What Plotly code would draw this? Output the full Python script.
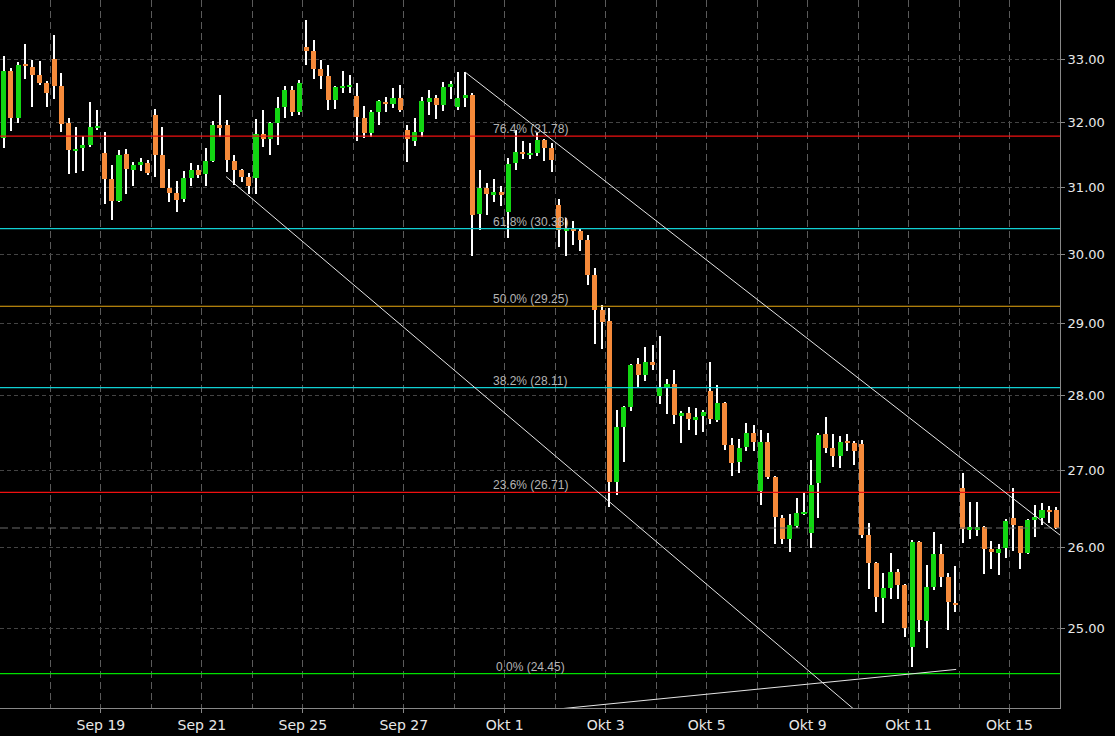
import math
import plotly.graph_objects as go

# Hourly bars, 7 per trading day (Sep 17 - Okt 15)
bars_per_day = 7
n_days = 21
day_labels = ["Sep 19", "Sep 21", "Sep 25", "Sep 27", "Okt 1", "Okt 3",
              "Okt 5", "Okt 9", "Okt 11", "Okt 15"]
label_days = [2, 4, 6, 8, 10, 12, 14, 16, 18, 20]

open_ = [
    31.76, 32.81, 32.07, 32.92, 32.87, 32.74, 32.62,
    33.00, 32.57, 31.98, 31.56, 31.60, 31.64, 31.91,
    31.52, 31.13, 30.79, 31.51, 31.26, 31.34, 31.37,
    32.11, 31.49, 30.99, 30.91, 30.82, 31.14, 31.26,
    31.20, 31.40, 31.95, 31.95, 31.40, 31.26, 31.15,
    31.14, 31.82, 31.74, 31.99, 32.24, 32.50, 32.16,
    33.20, 33.13, 32.84, 32.72, 32.35, 32.54, 32.56,
    32.41, 32.06, 31.83, 32.16, 32.32, 32.28, 32.38,
    31.88, 31.71, 31.85, 32.32, 32.38, 32.27, 32.56,
    32.24, 32.38, 32.43, 30.60, 30.99, 30.89, 30.92,
    30.62, 31.37, 31.54, 31.49, 31.52, 31.72, 31.60,
    30.73, 30.35, 30.38, 30.35, 30.21, 29.70, 29.20,
    29.04, 26.84, 27.58, 27.85, 28.44, 28.29, 28.46,
    28.00, 28.12, 28.16, 27.73, 27.77, 27.67, 27.73,
    28.06, 27.67, 27.90, 27.33, 27.11, 27.31, 27.50,
    26.73, 27.37, 26.91, 26.38, 26.11, 26.28, 26.43,
    26.19, 26.83, 27.48, 27.29, 27.19, 27.39, 27.36,
    27.35, 26.16, 25.80, 25.37, 25.49, 25.69, 25.53,
    24.77, 26.07, 25.09, 25.51, 25.92, 25.63, 25.31,
    26.77, 26.23, 26.23, 26.26, 25.98, 25.93, 25.99,
    26.38, 26.27, 25.93, 26.35, 26.38, 26.48, 26.48,
]
high = [
    33.05, 32.85, 32.95, 33.24, 32.98, 32.97, 32.65,
    33.39, 32.78, 32.06, 31.92, 31.79, 32.32, 32.19,
    31.85, 31.33, 31.56, 31.59, 31.39, 31.45, 31.41,
    32.20, 31.93, 31.28, 31.09, 31.25, 31.37, 31.34,
    31.60, 32.02, 32.43, 32.03, 31.49, 31.27, 31.21,
    32.05, 32.19, 32.00, 32.39, 32.57, 32.57, 32.66,
    33.63, 33.31, 32.98, 32.90, 32.57, 32.81, 32.74,
    32.62, 32.25, 32.19, 32.35, 32.39, 32.54, 32.58,
    31.95, 32.07, 32.40, 32.50, 32.43, 32.63, 32.64,
    32.79, 32.79, 32.45, 31.26, 31.07, 31.13, 31.01,
    31.44, 31.88, 31.71, 31.68, 31.83, 31.74, 31.68,
    30.82, 30.54, 30.49, 30.38, 30.29, 29.80, 29.27,
    29.22, 27.81, 27.86, 28.44, 28.52, 28.68, 28.70,
    28.83, 28.23, 28.36, 27.79, 27.85, 27.83, 27.81,
    28.47, 28.15, 27.91, 27.43, 27.41, 27.63, 27.60,
    27.54, 27.49, 26.92, 26.42, 26.43, 26.64, 26.70,
    27.14, 27.50, 27.71, 27.48, 27.45, 27.48, 27.39,
    27.40, 26.31, 25.82, 25.68, 25.93, 25.73, 25.54,
    26.10, 26.09, 25.78, 26.20, 26.05, 25.68, 25.77,
    26.96, 26.58, 26.59, 26.27, 26.09, 26.04, 26.37,
    26.77, 26.28, 26.36, 26.55, 26.57, 26.53, 26.52,
]
low = [
    31.60, 31.86, 31.99, 32.68, 32.24, 32.58, 32.23,
    32.36, 31.85, 31.20, 31.22, 31.25, 31.62, 31.88,
    30.75, 30.51, 30.78, 30.90, 31.02, 31.24, 31.18,
    31.16, 30.98, 30.77, 30.63, 30.78, 31.02, 31.14,
    31.02, 31.38, 31.77, 31.23, 31.03, 31.08, 30.90,
    30.90, 31.62, 31.49, 31.65, 32.07, 32.10, 32.11,
    32.91, 32.68, 32.52, 32.19, 32.21, 32.45, 32.46,
    31.71, 31.76, 31.77, 31.96, 32.16, 32.22, 32.15,
    31.39, 31.63, 31.77, 32.11, 32.05, 32.18, 32.37,
    32.19, 32.23, 29.98, 30.36, 30.58, 30.77, 30.72,
    30.24, 31.26, 31.43, 31.43, 31.47, 31.40, 31.23,
    30.11, 29.98, 30.13, 30.05, 29.55, 28.71, 28.64,
    26.52, 26.67, 27.11, 27.79, 28.10, 28.20, 28.36,
    27.89, 27.75, 27.61, 27.36, 27.54, 27.47, 27.51,
    27.62, 27.64, 27.27, 26.92, 26.97, 27.25, 27.25,
    26.54, 26.89, 26.05, 26.05, 25.95, 26.25, 26.42,
    25.99, 26.38, 27.23, 27.04, 27.03, 27.25, 27.07,
    26.12, 25.48, 25.20, 25.06, 25.36, 25.36, 24.89,
    24.53, 24.95, 24.76, 25.47, 25.51, 24.98, 25.20,
    26.06, 26.11, 26.15, 25.67, 25.73, 25.65, 25.87,
    25.96, 25.73, 25.92, 26.13, 26.29, 26.31, 26.24,
]
close = [
    32.81, 32.07, 32.90, 32.89, 32.74, 32.62, 32.45,
    32.57, 31.97, 31.56, 31.59, 31.64, 31.92, 31.94,
    31.13, 30.79, 31.49, 31.28, 31.34, 31.38, 31.22,
    31.49, 30.99, 30.91, 30.81, 31.14, 31.26, 31.19,
    31.40, 31.95, 31.92, 31.42, 31.26, 31.16, 31.02,
    31.81, 31.74, 31.99, 32.22, 32.50, 32.16, 32.62,
    33.13, 32.84, 32.73, 32.35, 32.55, 32.57, 32.59,
    32.08, 31.83, 32.16, 32.33, 32.28, 32.38, 32.19,
    31.73, 31.85, 32.33, 32.38, 32.27, 32.55, 32.60,
    32.38, 32.42, 30.58, 30.99, 30.90, 30.92, 30.89,
    31.35, 31.54, 31.51, 31.52, 31.72, 31.60, 31.42,
    30.36, 30.38, 30.35, 30.21, 29.70, 29.19, 29.02,
    26.84, 27.58, 27.85, 28.43, 28.29, 28.46, 28.43,
    28.11, 28.16, 27.74, 27.77, 27.69, 27.71, 27.78,
    27.69, 27.90, 27.34, 27.10, 27.29, 27.50, 27.37,
    27.37, 26.91, 26.39, 26.11, 26.29, 26.44, 26.46,
    26.81, 27.47, 27.29, 27.19, 27.37, 27.37, 27.25,
    26.16, 25.81, 25.38, 25.49, 25.69, 25.53, 25.00,
    26.07, 25.10, 25.50, 25.92, 25.63, 25.32, 25.29,
    26.24, 26.26, 26.26, 25.98, 25.94, 25.98, 26.34,
    26.29, 25.93, 26.35, 26.39, 26.48, 26.46, 26.25,
]

# Fibonacci retracement levels
fib_pct = ["0.0%", "23.6%", "38.2%", "50.0%", "61.8%", "76.4%"]
fib_levels = [24.45, 26.71, 28.11, 29.25, 30.38, 31.78]
fib_colors = ["#00e000", "#f01010", "#10d0d4", "#e8a810", "#10d0d4", "#f01010"]
fib_label_bar = 73

# Trend lines: anchor points as (bar index, price)
upper_line_x = [64, 146.5]
upper_line_y = [32.79, 26.16]
lower_line_x = [30.85, 120]
lower_line_y = [31.16, 23.88]
support_line_x = [74.4, 132.1]
support_line_y = [24.01, 24.50]

y_ticks = [25, 26, 27, 28, 29, 30, 31, 32, 33]
y_min, y_max = 24.043, 33.964

GREEN = "#12d612"
ORANGE = "#f58a3a"
LINE_WHITE = "#e6e6e6"
BODY_WIDTH = 0.7
WICK_WIDTH = 0.14

n_bars = len(close)
bar_idx = list(range(n_bars))
x_lo, x_hi = -0.5, n_bars - 0.5

fig = go.Figure()

# wicks (high-low) as thin floating bars, drawn first so bodies sit on top
fig.add_trace(go.Bar(
    x=bar_idx, y=[h - l for h, l in zip(high, low)], base=low, width=WICK_WIDTH,
    marker=dict(color="#ffffff", line=dict(width=0)), hoverinfo="skip",
))

# candle bodies (open-close) as floating bars
body_base = [min(o, c) for o, c in zip(open_, close)]
body_size = [abs(c - o) for o, c in zip(open_, close)]
body_color = [GREEN if c >= o else ORANGE for o, c in zip(open_, close)]
fig.add_trace(go.Bar(
    x=bar_idx, y=body_size, base=body_base, width=BODY_WIDTH,
    marker=dict(color=body_color, line=dict(width=0)),
    hoverinfo="skip",
))

# last price line
fig.add_trace(go.Scatter(x=[x_lo, x_hi], y=[close[-1], close[-1]], mode="lines",
                         line=dict(color="#6a6a6a", width=1, dash="8px,4px"),
                         hoverinfo="skip"))

# fibonacci lines
for lvl, col in zip(fib_levels, fib_colors):
    fig.add_trace(go.Scatter(x=[x_lo, x_hi], y=[lvl, lvl], mode="lines",
                             line=dict(color=col, width=1.2), hoverinfo="skip"))

# trend lines
for lx, ly in [(upper_line_x, upper_line_y), (lower_line_x, lower_line_y),
               (support_line_x, support_line_y)]:
    fig.add_trace(go.Scatter(x=lx, y=ly, mode="lines",
                             line=dict(color=LINE_WHITE, width=1), hoverinfo="skip"))

annotations = []
for pct, lvl in zip(fib_pct, fib_levels):
    annotations.append(dict(
        x=fib_label_bar, y=math.log10(lvl), xref="x", yref="y",
        text=f"{pct} ({lvl:.2f})", showarrow=False,
        xanchor="center", yanchor="bottom", yshift=-2,
        font=dict(family="Liberation Sans", size=12, color="#b4b4b4"),
    ))

major_pos = [d * bars_per_day - 0.5 for d in label_days]

fig.update_layout(
    width=1115, height=736,
    margin=dict(l=0, r=55, t=0, b=28),
    paper_bgcolor="#000000", plot_bgcolor="#000000",
    showlegend=False, hovermode=False, barmode="overlay", bargap=0,
    annotations=annotations,
    xaxis=dict(
        range=[x_lo, x_hi], type="linear",
        tickvals=major_pos, ticktext=day_labels,
        ticks="outside", ticklen=4, tickcolor="#888888",
        tickfont=dict(family="DejaVu Sans", size=14, color="#e8e8e8"),
        showgrid=True, gridcolor="#5a5a5a", griddash="7px,4px", gridwidth=1,
        minor=dict(tick0=-0.5, dtick=bars_per_day, showgrid=True,
                   gridcolor="#5a5a5a", griddash="7px,4px", gridwidth=1, ticks=""),
        showline=True, linecolor="#888888", linewidth=1,
        zeroline=False, fixedrange=True,
    ),
    yaxis=dict(
        type="log", side="right",
        range=[math.log10(y_min), math.log10(y_max)],
        tickvals=y_ticks, ticktext=[f"{v:.2f}" for v in y_ticks],
        ticks="outside", ticklen=4, tickcolor="#888888",
        tickfont=dict(family="DejaVu Sans", size=13, color="#e8e8e8"),
        showgrid=True, gridcolor="#444444", griddash="4px,3px", gridwidth=1,
        showline=True, linecolor="#888888", linewidth=1,
        zeroline=False, fixedrange=True,
    ),
)

fig.write_html("out.html")
